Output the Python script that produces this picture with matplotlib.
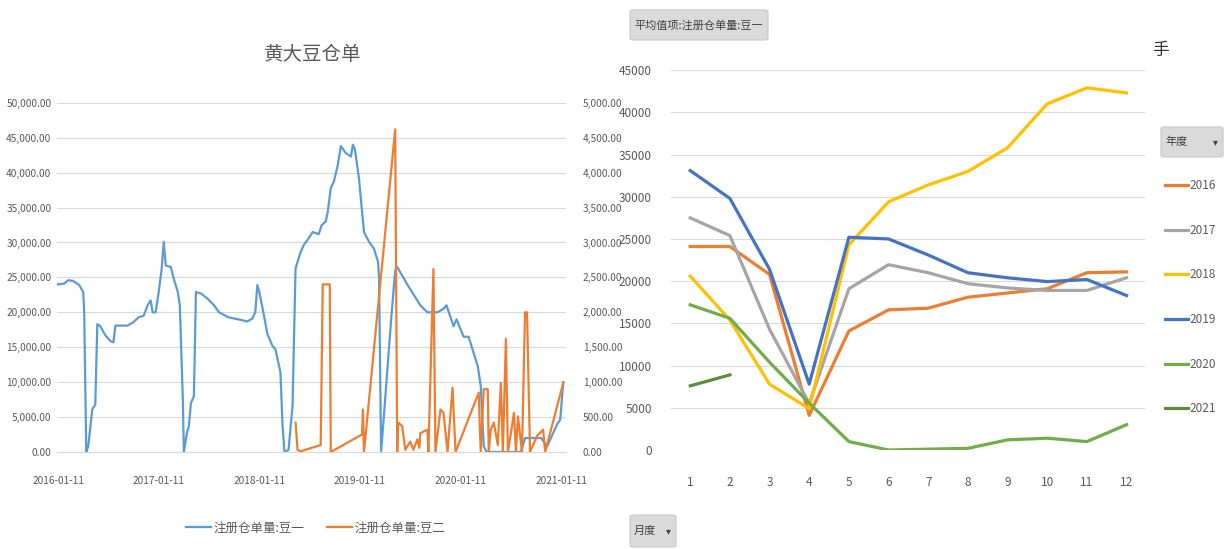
import numpy as np
import matplotlib
matplotlib.use('Agg')
import matplotlib.pyplot as plt
from matplotlib.patches import FancyBboxPatch

plt.rcParams['font.family'] = ['Noto Sans CJK SC', 'DejaVu Sans']

# ---- 左图: 黄大豆仓单 (x 为年份小数) ----
dou1_x = [2016.00, 2016.06, 2016.10, 2016.15, 2016.21, 2016.25, 2016.26, 2016.28, 2016.30, 2016.34,
          2016.37, 2016.39, 2016.42, 2016.47, 2016.52, 2016.55, 2016.57, 2016.69, 2016.75, 2016.80,
          2016.85, 2016.89, 2016.92, 2016.94, 2016.97, 2017.00, 2017.03, 2017.05, 2017.07, 2017.12,
          2017.15, 2017.19, 2017.21, 2017.24, 2017.25, 2017.28, 2017.30, 2017.32, 2017.35, 2017.37,
          2017.42, 2017.49, 2017.55, 2017.60, 2017.69, 2017.82, 2017.88, 2017.93, 2017.96, 2017.98,
          2018.00, 2018.04, 2018.08, 2018.13, 2018.16, 2018.21, 2018.23, 2018.25, 2018.29, 2018.33,
          2018.36, 2018.41, 2018.44, 2018.49, 2018.53, 2018.59, 2018.62, 2018.66, 2018.68, 2018.71,
          2018.74, 2018.78, 2018.81, 2018.86, 2018.91, 2018.93, 2018.95, 2018.99, 2019.04, 2019.09,
          2019.14, 2019.18, 2019.19, 2019.21, 2019.24, 2019.31, 2019.35, 2019.37, 2019.47, 2019.60,
          2019.67, 2019.77, 2019.83, 2019.86, 2019.93, 2019.96, 2020.03, 2020.08, 2020.17, 2020.20,
          2020.23, 2020.26, 2020.60, 2020.64, 2020.80, 2020.86, 2020.96, 2020.99, 2021.02]
dou1_y = [24000, 24100, 24600, 24500, 23900, 22900, 20000, 0, 800, 6100,
          6800, 18300, 18000, 16700, 15900, 15700, 18100, 18100, 18600, 19300,
          19500, 21000, 21700, 20000, 20000, 22900, 26300, 30100, 26700, 26500,
          24800, 22900, 21000, 7500, 0, 2700, 3700, 7000, 8000, 22900,
          22700, 21900, 21000, 20000, 19300, 18900, 18700, 19100, 20000, 23900,
          22900, 20000, 16900, 15200, 14700, 11400, 4000, 0, 300, 6600,
          26300, 28600, 29600, 30600, 31500, 31200, 32500, 33000, 34400, 37800,
          38700, 41100, 43800, 42800, 42300, 44000, 43300, 39200, 31500, 30100,
          29100, 27200, 24800, 0, 5600, 19000, 26000, 26500, 24000, 21000,
          20000, 20000, 20500, 21000, 18000, 19000, 16500, 16500, 12300, 9500,
          800, 0, 0, 2000, 2000, 800, 4000, 4600, 10000]

dou2_x = [2018.36, 2018.38, 2018.41, 2018.61, 2018.63, 2018.70, 2018.71, 2019.02, 2019.03, 2019.04,
          2019.35, 2019.37, 2019.38, 2019.42, 2019.45, 2019.50, 2019.53, 2019.57, 2019.59, 2019.60,
          2019.67, 2019.68, 2019.73, 2019.75, 2019.80, 2019.83, 2019.87, 2019.92, 2019.95, 2020.18,
          2020.20, 2020.23, 2020.27, 2020.28, 2020.30, 2020.33, 2020.37, 2020.40, 2020.42, 2020.45,
          2020.47, 2020.50, 2020.53, 2020.55, 2020.57, 2020.61, 2020.64, 2020.66, 2020.69, 2020.76,
          2020.82, 2020.84, 2021.02]
dou2_y = [420, 30, 10, 100, 2400, 2400, 0, 250, 610, 0,
          4620, 0, 420, 370, 30, 150, 30, 180, 60, 270,
          320, 0, 2620, 0, 610, 560, 0, 920, 0, 850,
          0, 900, 900, 0, 320, 420, 100, 990, 0, 1620,
          0, 270, 560, 0, 510, 0, 2000, 2000, 0, 230,
          320, 0, 990]

left_title = '黄大豆仓单'
left_ticks = [2016, 2017, 2018, 2019, 2020, 2021]
left_ticklabels = ['2016-01-11', '2017-01-11', '2018-01-11', '2019-01-11', '2020-01-11', '2021-01-11']
left_names = ['注册仓单量:豆一', '注册仓单量:豆二']

# ---- 右图: 月度均值 ----
months = list(range(1, 13))
y2016 = [24100, 24100, 20800, 4100, 14100, 16600, 16800, 18100, 18600, 19100, 21000, 21100]
y2017 = [27500, 25400, 14300, 5500, 19100, 21950, 21000, 19700, 19200, 18900, 18900, 20400]
y2018 = [20600, 15400, 7800, 4900, 24300, 29400, 31400, 33000, 35800, 41000, 42900, 42300]
y2019 = [33100, 29800, 21400, 7800, 25200, 25000, 23100, 21000, 20400, 19950, 20200, 18300]
y2020 = [17200, 15600, 10400, 5550, 1000, 0, 100, 200, 1200, 1400, 1000, 3000]
y2021 = [7600, 8900]
years = ['2016', '2017', '2018', '2019', '2020', '2021']
year_colors = ['#ED7D31', '#A5A5A5', '#FFC000', '#4472C4', '#70AD47', '#5E8C3A']

grey = '#595959'
grid_c = '#D9D9D9'

fig = plt.figure(figsize=(12.27, 5.49), dpi=100)

# 左图
ax = fig.add_axes([0.0465, 0.1767, 0.415, 0.636])
ax.plot(dou1_x, dou1_y, color='#5B9BD5', lw=1.6, label=left_names[0])
ax.set_ylim(0, 50000)
ax.set_yticks(np.arange(0, 50001, 5000))
ax.set_yticklabels([f'{v:,.2f}' for v in np.arange(0, 50001, 5000)])
ax.set_xlim(2015.99, 2021.05)
ax.set_xticks(left_ticks)
ax.set_xticklabels(left_ticklabels)
ax.grid(axis='y', color=grid_c, lw=0.8)
ax.set_axisbelow(True)
ax2 = ax.twinx()
ax2.plot(dou2_x, dou2_y, color='#ED7D31', lw=1.6, label=left_names[1])
ax2.set_ylim(0, 5000)
ax2.set_yticks(np.arange(0, 5001, 500))
ax2.set_yticklabels([f'{v:,.2f}' for v in np.arange(0, 5001, 500)])
for a in (ax, ax2):
    for s in a.spines.values():
        s.set_visible(False)
    a.tick_params(length=0, colors=grey, labelsize=7.3)
ax.tick_params(axis='x', pad=17)
ax.tick_params(axis='y', pad=4)
ax2.tick_params(axis='y', pad=12)
ax.spines['bottom'].set_visible(True)
ax.spines['bottom'].set_color(grid_c)
fig.text(0.255, 0.90, left_title, ha='center', va='center', fontsize=14, color=grey)
h1, l1 = ax.get_legend_handles_labels()
h2, l2 = ax2.get_legend_handles_labels()
fig.legend(h1 + h2, l1 + l2, loc='center', bbox_to_anchor=(0.257, 0.038), ncol=2, frameon=False,
           fontsize=9, labelcolor=grey, handlelength=2.0, columnspacing=1.8, handletextpad=0.2)

# 右图
bx = fig.add_axes([0.547, 0.1803, 0.386, 0.692])
ys = [y2016, y2017, y2018, y2019, y2020, y2021]
for name, vals, c in zip(years, ys, year_colors):
    bx.plot(months[:len(vals)], vals, color=c, lw=2.3, label=name)
bx.set_ylim(0, 45000)
bx.set_yticks(np.arange(0, 45001, 5000))
bx.set_xlim(0.52, 12.46)
bx.set_xticks(months)
bx.grid(axis='y', color=grid_c, lw=0.8)
bx.set_axisbelow(True)
for s in bx.spines.values():
    s.set_visible(False)
bx.tick_params(length=0, colors=grey, labelsize=8.5)
bx.tick_params(axis='x', pad=19)
bx.tick_params(axis='y', pad=14)

leg = fig.legend(*bx.get_legend_handles_labels(), loc='upper left', bbox_to_anchor=(0.941, 0.693),
                 frameon=False, fontsize=8.5, labelcolor=grey, handlelength=1.9,
                 handletextpad=0.15, labelspacing=2.68)

# 按钮
def button(x0, y0, w, h, txt, arrow=False):
    p = FancyBboxPatch((x0 / 1227, 1 - (y0 + h) / 549), w / 1227, h / 549,
                       boxstyle='round,pad=0,rounding_size=0.003', transform=fig.transFigure,
                       facecolor='#DADADA', edgecolor='#C8C8C8', lw=0.8)
    fig.patches.append(p)
    fig.text((x0 + 4) / 1227, 1 - (y0 + h / 2) / 549, txt, ha='left', va='center',
             fontsize=8, color='#404040')
    if arrow:
        fig.text((x0 + w - 8) / 1227, 1 - (y0 + h / 2) / 549, '▾', ha='center', va='center',
                 fontsize=7, color='#404040', family='DejaVu Sans')

button(630, 10, 138, 30, '平均值项:注册仓单量:豆一')
button(1161, 127, 62, 30, '年度', arrow=True)
button(630, 515, 46, 32, '月度', arrow=True)
fig.text(1160 / 1227, 1 - 50 / 549, '手', ha='center', va='center', fontsize=12, color='#303030')

fig.savefig('out.png', dpi=100)
